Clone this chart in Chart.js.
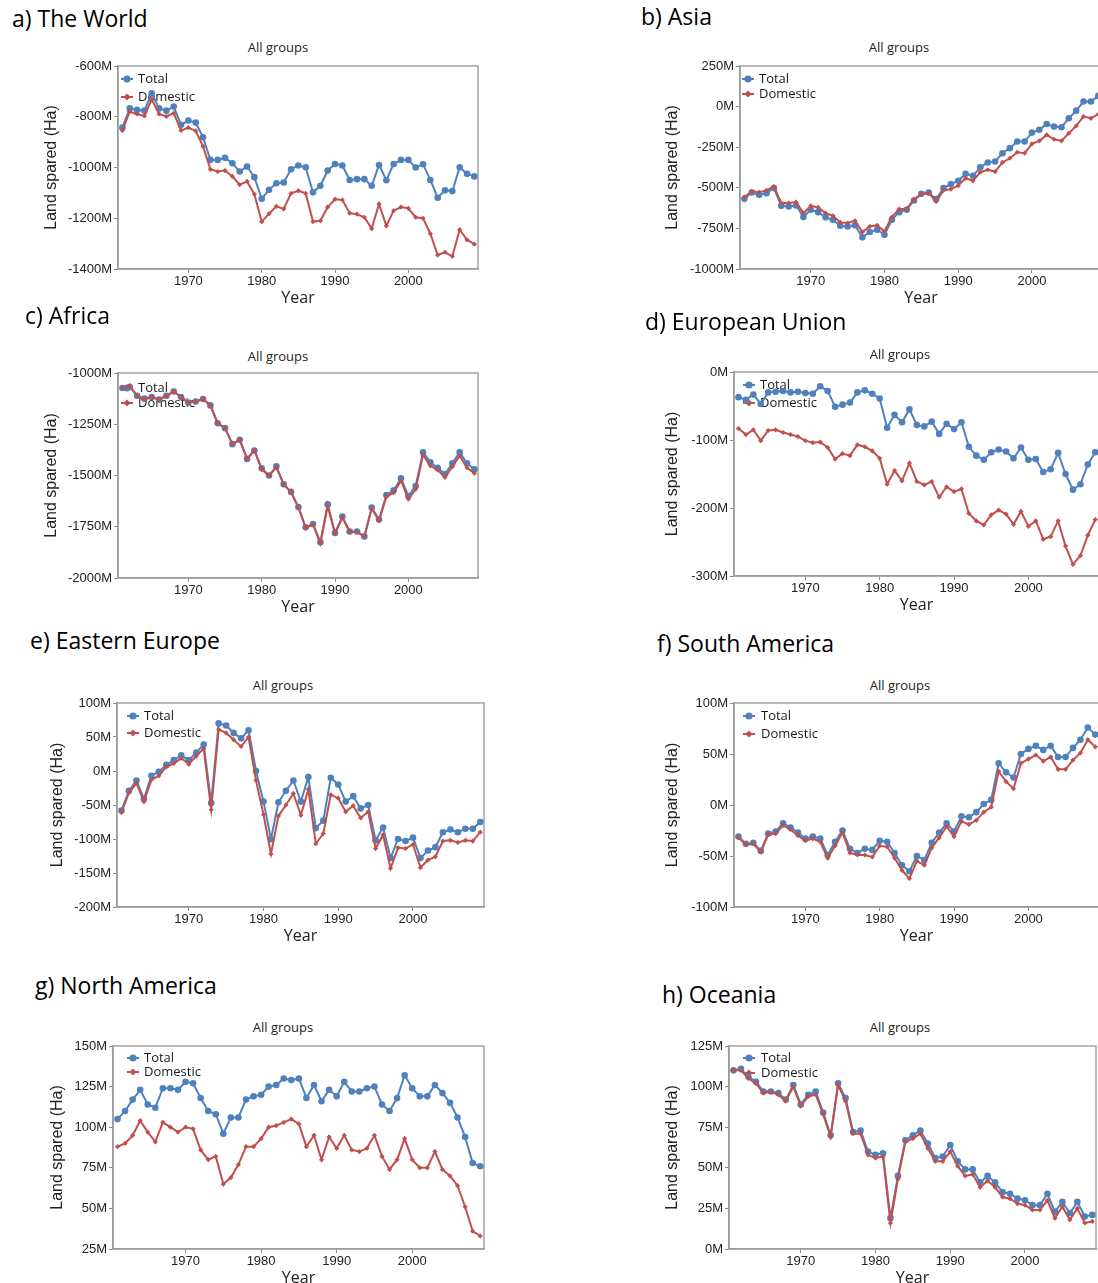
<!DOCTYPE html>
<html>
<head>
<meta charset="utf-8">
<script src="https://cdn.jsdelivr.net/npm/chart.js@4.4.1/dist/chart.umd.min.js"></script>
<style>
html, body { margin: 0; padding: 0; width: 1098px; height: 1283px; overflow: hidden; background: #fff; }
.head { position: absolute; font-family: "Open Sans", sans-serif; font-size: 23px; line-height: 28px; color: #000; white-space: nowrap; }
.sub { position: absolute; font-family: "Open Sans", sans-serif; font-size: 13px; line-height: 13px; color: #222; white-space: nowrap; transform: translateX(-50%); }
canvas { position: absolute; }
</style>
</head>
<body>
<script>
const years = [1961, 1962, 1963, 1964, 1965, 1966, 1967, 1968, 1969, 1970,
  1971, 1972, 1973, 1974, 1975, 1976, 1977, 1978, 1979, 1980,
  1981, 1982, 1983, 1984, 1985, 1986, 1987, 1988, 1989, 1990,
  1991, 1992, 1993, 1994, 1995, 1996, 1997, 1998, 1999, 2000,
  2001, 2002, 2003, 2004, 2005, 2006, 2007, 2008, 2009];
const xTicks = [1970, 1980, 1990, 2000];
const seriesNames = ['Total', 'Domestic'];

// values in millions of hectares
const worldTotal = [-843, -767, -773, -776, -708, -767, -776, -760, -832, -815,
  -823, -881, -970, -970, -962, -983, -1016, -996, -1038, -1123,
  -1088, -1062, -1059, -1007, -992, -999, -1098, -1072, -1012, -986,
  -992, -1049, -1046, -1046, -1072, -990, -1050, -986, -970, -970,
  -1000, -987, -1049, -1119, -1090, -1093, -999, -1025, -1035];
const worldDomestic = [-854, -780, -789, -797, -731, -789, -799, -786, -854, -843,
  -856, -917, -1007, -1016, -1012, -1035, -1068, -1055, -1105, -1214,
  -1182, -1153, -1163, -1102, -1092, -1102, -1213, -1210, -1156, -1125,
  -1128, -1180, -1184, -1196, -1241, -1144, -1230, -1170, -1156, -1161,
  -1196, -1200, -1261, -1345, -1334, -1350, -1245, -1285, -1302];

const asiaTotal = [-568, -529, -543, -533, -502, -611, -615, -609, -680, -635,
  -650, -682, -697, -734, -738, -731, -805, -772, -758, -789,
  -697, -650, -635, -578, -537, -529, -570, -502, -477, -457,
  -414, -426, -373, -344, -338, -287, -256, -215, -215, -160,
  -143, -107, -123, -127, -72, -25, 31, 31, 66];
const asiaDomestic = [-557, -522, -527, -516, -492, -594, -594, -588, -656, -611,
  -621, -656, -672, -713, -717, -703, -772, -738, -731, -768,
  -680, -631, -629, -570, -539, -533, -584, -516, -508, -486,
  -441, -457, -404, -389, -400, -344, -318, -281, -287, -229,
  -211, -174, -201, -211, -164, -119, -61, -72, -47];

const africaTotal = [-1073, -1068, -1111, -1125, -1117, -1130, -1111, -1090, -1117, -1144,
  -1139, -1127, -1158, -1245, -1269, -1347, -1326, -1419, -1378, -1465,
  -1500, -1455, -1543, -1580, -1654, -1753, -1737, -1825, -1641, -1780,
  -1700, -1773, -1773, -1797, -1656, -1715, -1595, -1572, -1514, -1600,
  -1551, -1387, -1435, -1463, -1493, -1440, -1387, -1440, -1470];
const africaDomestic = [-1073, -1062, -1111, -1130, -1117, -1130, -1111, -1090, -1117, -1144,
  -1139, -1127, -1158, -1245, -1269, -1347, -1326, -1419, -1378, -1470,
  -1502, -1460, -1543, -1582, -1656, -1755, -1739, -1832, -1649, -1783,
  -1705, -1775, -1775, -1799, -1661, -1721, -1603, -1584, -1525, -1615,
  -1566, -1400, -1452, -1473, -1509, -1457, -1403, -1462, -1489];

const euTotal = [-37, -41, -33, -47, -30, -29, -28, -30, -29, -31,
  -32, -21, -28, -51, -48, -45, -30, -27, -32, -39,
  -82, -63, -74, -55, -78, -80, -73, -91, -76, -84,
  -74, -110, -123, -129, -118, -114, -117, -127, -111, -129,
  -128, -147, -143, -119, -150, -173, -165, -136, -118];
const euDomestic = [-83, -92, -85, -101, -86, -85, -89, -92, -95, -101,
  -104, -103, -111, -128, -120, -123, -107, -110, -116, -127,
  -165, -145, -160, -134, -161, -166, -161, -184, -169, -176,
  -172, -208, -219, -225, -210, -203, -209, -224, -205, -227,
  -219, -246, -242, -219, -256, -283, -270, -240, -217];

const eastEuTotal = [-58, -29, -14, -41, -7, -1, 9, 16, 23, 16,
  27, 39, -47, 70, 67, 56, 48, 60, 0, -45,
  -100, -46, -29, -14, -45, -9, -84, -73, -10, -20,
  -45, -37, -55, -50, -102, -83, -128, -100, -103, -98,
  -128, -117, -112, -90, -86, -90, -85, -85, -75];
const eastEuDomestic = [-61, -32, -18, -45, -13, -7, 6, 11, 19, 10,
  22, 33, -57, 61, 56, 46, 36, 50, -14, -64,
  -122, -66, -50, -33, -65, -27, -107, -92, -35, -40,
  -60, -51, -69, -60, -114, -94, -143, -113, -114, -108,
  -142, -131, -126, -103, -102, -105, -102, -103, -90];

const southAmTotal = [-31, -38, -37, -45, -28, -26, -18, -22, -27, -33,
  -31, -33, -49, -36, -25, -43, -47, -43, -44, -35,
  -36, -47, -59, -65, -50, -54, -37, -27, -18, -26,
  -11, -12, -7, 1, 5, 41, 32, 27, 50, 55,
  58, 54, 58, 47, 47, 56, 64, 76, 69];
const southAmDomestic = [-32, -39, -38, -46, -29, -28, -20, -24, -30, -35,
  -33, -36, -52, -40, -27, -47, -49, -49, -51, -40,
  -41, -52, -64, -72, -55, -59, -42, -32, -21, -31,
  -16, -19, -15, -7, -2, 33, 23, 16, 41, 45,
  49, 43, 47, 35, 35, 44, 51, 64, 57];

const northAmTotal = [105, 110, 117, 123, 114, 112, 124, 124, 123, 128,
  127, 118, 110, 108, 96, 106, 106, 117, 119, 120,
  125, 126, 130, 129, 130, 118, 126, 116, 123, 119,
  128, 122, 122, 124, 125, 114, 110, 118, 132, 124,
  119, 119, 126, 121, 115, 106, 94, 78, 76];
const northAmDomestic = [88, 90, 95, 104, 97, 91, 103, 100, 97, 100,
  99, 86, 80, 82, 65, 69, 77, 88, 88, 93,
  100, 101, 103, 105, 102, 88, 95, 80, 94, 87,
  95, 86, 85, 87, 95, 82, 74, 80, 93, 80,
  75, 75, 85, 74, 70, 64, 51, 36, 33];

const oceaniaTotal = [110, 111, 106, 103, 97, 97, 96, 92, 101, 89,
  95, 97, 84, 70, 102, 93, 72, 73, 60, 58,
  59, 19, 45, 67, 70, 73, 65, 56, 57, 64,
  54, 49, 49, 41, 45, 41, 35, 34, 31, 30,
  27, 27, 34, 23, 29, 22, 29, 20, 21];
const oceaniaDomestic = [110, 110, 105, 102, 96, 97, 95, 91, 100, 88,
  94, 95, 83, 69, 101, 91, 71, 71, 58, 56,
  57, 16, 43, 66, 68, 71, 62, 54, 54, 60,
  51, 45, 46, 38, 42, 38, 32, 31, 28, 27,
  24, 24, 30, 19, 26, 18, 25, 16, 17];

const blue = '#4f81bd';
const red = '#c0504d';

// layout of each panel on the page (plot box, headings, legend offsets)
const panels = [
  { head: 'a) The World', hx: 12, hy: 21, sx: 278, sy: 49, L: 118, T: 66, W: 360, H: 203,
    ymin: -1400, ymax: -600, step: 200, ytx: 52, leg: [9, 20, 13, 31], total: worldTotal, domestic: worldDomestic },
  { head: 'b) Asia', hx: 641, hy: 19, sx: 899, sy: 49, L: 740, T: 66, W: 362, H: 203,
    ymin: -1000, ymax: 250, step: 250, ytx: 673, leg: [8, 19, 13, 28], total: asiaTotal, domestic: asiaDomestic },
  { head: 'c) Africa', hx: 25, hy: 318, sx: 278, sy: 358, L: 118, T: 373, W: 360, H: 205,
    ymin: -2000, ymax: -1000, step: 250, ytx: 52, leg: [9, 20, 15, 30], total: africaTotal, domestic: africaDomestic },
  { head: 'd) European Union', hx: 645, hy: 324, sx: 900, sy: 356, L: 734, T: 372, W: 365, H: 204,
    ymin: -300, ymax: 0, step: 100, ytx: 673, leg: [15, 26, 13, 31], total: euTotal, domestic: euDomestic },
  { head: 'e) Eastern Europe', hx: 30, hy: 643, sx: 283, sy: 687, L: 117, T: 703, W: 367, H: 204,
    ymin: -200, ymax: 100, step: 50, ytx: 58, leg: [16, 27, 13, 30], total: eastEuTotal, domestic: eastEuDomestic },
  { head: 'f) South America', hx: 657, hy: 646, sx: 900, sy: 687, L: 734, T: 703, W: 365, H: 204,
    ymin: -100, ymax: 100, step: 50, ytx: 673, leg: [15, 27, 13, 31], total: southAmTotal, domestic: southAmDomestic },
  { head: 'g) North America', hx: 35, hy: 988, sx: 283, sy: 1029, L: 113, T: 1046, W: 371, H: 203,
    ymin: 25, ymax: 150, step: 25, ytx: 58, leg: [20, 31, 12, 26], total: northAmTotal, domestic: northAmDomestic },
  { head: 'h) Oceania', hx: 662, hy: 997, sx: 900, sy: 1029, L: 729, T: 1046, W: 367, H: 203,
    ymin: 0, ymax: 125, step: 25, ytx: 673, leg: [20, 32, 12, 27], total: oceaniaTotal, domestic: oceaniaDomestic }
];

const insideLegend = {
  id: 'insideLegend',
  beforeDatasetsDraw(chart, args, opts) {
    const { ctx, chartArea } = chart;
    const [mx, tx, y1, y2] = opts.pos;
    ctx.save();
    ctx.strokeStyle = '#a3a3a3';
    ctx.lineWidth = 1.5;
    ctx.strokeRect(chartArea.left, chartArea.top, chartArea.right - chartArea.left, chartArea.bottom - chartArea.top);
    chart.data.datasets.forEach((ds, i) => {
      const y = chartArea.top + (i === 0 ? y1 : y2);
      const x = chartArea.left + mx;
      ctx.strokeStyle = ds.borderColor;
      ctx.lineWidth = 2;
      ctx.beginPath();
      ctx.moveTo(x - 6, y);
      ctx.lineTo(x + 6, y);
      ctx.stroke();
      ctx.fillStyle = ds.borderColor;
      ctx.beginPath();
      if (ds.pointStyle === 'circle') {
        ctx.arc(x, y, 3.6, 0, Math.PI * 2);
      } else {
        ctx.moveTo(x, y - 3.6);
        ctx.lineTo(x + 3.6, y);
        ctx.lineTo(x, y + 3.6);
        ctx.lineTo(x - 3.6, y);
        ctx.closePath();
      }
      ctx.fill();
      ctx.fillStyle = '#1a1a1a';
      ctx.font = '13px "Open Sans"';
      ctx.textBaseline = 'middle';
      ctx.fillText(ds.label, chartArea.left + tx, y);
    });
    ctx.restore();
  }
};

const YW = 110, PT = 10, PR = 10, XH = 39;

panels.forEach(p => {
  const head = document.createElement('div');
  head.className = 'head';
  head.textContent = p.head;
  head.style.left = p.hx + 'px';
  head.style.top = (p.hy - 17) + 'px';
  document.body.appendChild(head);

  const sub = document.createElement('div');
  sub.className = 'sub';
  sub.textContent = 'All groups';
  sub.style.left = p.sx + 'px';
  sub.style.top = (p.sy - 8.4) + 'px';
  document.body.appendChild(sub);

  const canvas = document.createElement('canvas');
  const cw = YW + p.W + PR, ch = PT + p.H + XH;
  canvas.width = cw;
  canvas.height = ch;
  canvas.style.width = cw + 'px';
  canvas.style.height = ch + 'px';
  canvas.style.left = (p.L - YW) + 'px';
  canvas.style.top = (p.T - PT) + 'px';
  document.body.appendChild(canvas);

  const tickFont = { family: '"Liberation Sans", Arial, sans-serif', size: 13 };

  new Chart(canvas.getContext('2d'), {
    type: 'line',
    data: {
      datasets: [
        {
          label: seriesNames[0],
          data: years.map((y, i) => ({ x: y, y: p.total[i] })),
          borderColor: blue,
          backgroundColor: blue,
          borderWidth: 2,
          pointStyle: 'circle',
          pointRadius: 3.3,
          pointBorderWidth: 0,
          pointBackgroundColor: blue,
          order: 1
        },
        {
          label: seriesNames[1],
          data: years.map((y, i) => ({ x: y, y: p.domestic[i] })),
          borderColor: red,
          backgroundColor: red,
          borderWidth: 2,
          pointStyle: 'rectRot',
          pointRadius: 2.6,
          pointBorderWidth: 0,
          pointBackgroundColor: red,
          order: 0
        }
      ]
    },
    options: {
      responsive: false,
      animation: false,
      devicePixelRatio: 1,
      layout: { padding: { top: PT, right: PR, left: 0, bottom: 0 } },
      plugins: {
        legend: { display: false },
        tooltip: { enabled: false },
        insideLegend: { pos: p.leg }
      },
      scales: {
        x: {
          type: 'linear',
          min: 1960.4,
          max: 2009.5,
          afterBuildTicks: scale => { scale.ticks = xTicks.map(v => ({ value: v })); },
          afterFit: scale => { scale.height = XH; },
          ticks: { color: '#222', font: tickFont, padding: 1, maxRotation: 0, callback: v => String(v) },
          grid: { drawOnChartArea: false, drawTicks: true, tickLength: 4, color: '#8a8a8a' },
          border: { display: true, color: '#8a8a8a', width: 1.5 },
          title: { display: true, text: 'Year', color: '#222', font: { family: '"Open Sans"', size: 16 }, padding: { top: 0, bottom: 0 } }
        },
        y: {
          min: p.ymin,
          max: p.ymax,
          afterFit: scale => { scale.width = YW; },
          ticks: { stepSize: p.step, color: '#222', font: tickFont, padding: 2, callback: v => v + 'M' },
          grid: { drawOnChartArea: false, drawTicks: true, tickLength: 4, color: '#8a8a8a' },
          border: { display: true, color: '#8a8a8a', width: 1.5 },
          title: {
            display: true, text: 'Land spared (Ha)', color: '#222',
            font: { family: '"Liberation Sans", Arial, sans-serif', size: 16 },
            padding: { top: p.ytx - (p.L - YW) - 9.6, bottom: 0 }
          }
        }
      }
    },
    plugins: [insideLegend]
  });
});
</script>
</body>
</html>
